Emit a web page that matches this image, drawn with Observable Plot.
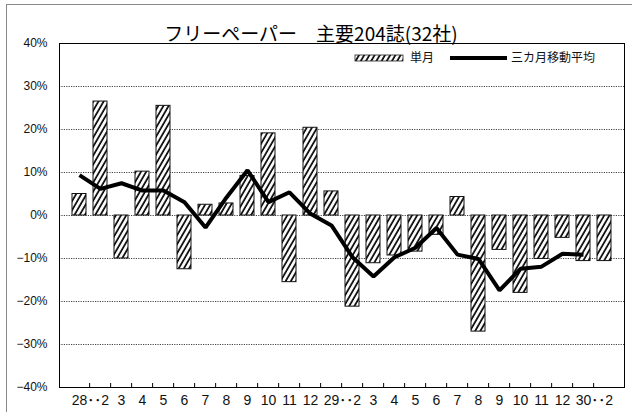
<!DOCTYPE html>
<html>
<head>
<meta charset="utf-8">
<script src="https://cdn.jsdelivr.net/npm/d3@7"></script>
<script src="https://cdn.jsdelivr.net/npm/@observablehq/plot@0.6"></script>
<style>
  body { margin: 0; background: #fff; }
  #wrap { position: relative; width: 632px; height: 412px; overflow: hidden; }
  #outer { position: absolute; left: 6px; top: 4px; width: 700px; height: 500px; border: 1px solid #888; box-sizing: border-box; }
  #chart { position: absolute; left: 0; top: 0; }
</style>
</head>
<body>
<div id="wrap"><div id="outer"></div><div id="chart"></div></div>
<script>
const title = "フリーペーパー　主要204誌(32社)";
const seriesNames = ["単月", "三カ月移動平均"];
const months = ["28.1","28.2","28.3","28.4","28.5","28.6","28.7","28.8","28.9","28.10","28.11","28.12",
                "29.1","29.2","29.3","29.4","29.5","29.6","29.7","29.8","29.9","29.10","29.11","29.12",
                "30.1","30.2"];
const tickLabels = ["28･･2","","3","4","5","6","7","8","9","10","11","12",
                    "29･･2","","3","4","5","6","7","8","9","10","11","12",
                    "30･･2",""];
const monthly = [5.0, 26.5, -10.0, 10.2, 25.5, -12.5, 2.5, 2.8, 9.2, 19.1, -15.5, 20.4,
                 5.6, -21.2, -11.1, -9.3, -8.4, -4.5, 4.3, -27.0, -8.0, -18.0, -10.1, -5.2, -10.6, -10.6];
const movingAvg = [9.4, 6.2, 7.5, 5.8, 5.8, 3.1, -2.8, 4.2, 10.5, 3.1, 5.4, 0.4,
                   -2.3, -9.7, -14.2, -9.7, -7.5, -2.9, -9.1, -10.1, -17.4, -12.4, -11.9, -8.9, -9.1, null];
const yTicks = [40, 30, 20, 10, 0, -10, -20, -30, -40];
const yTickLabels = ["40%","30%","20%","10%","0%","−10%","−20%","−30%","−40%"];
const gridTicks = [30, 20, 10, 0, -10, -20, -30];

const W = 632, H = 412, mL = 59, mR = 8, mT = 43, mB = 25;
const step = (W - mL - mR) / months.length;

const bars = months.map((m, i) => ({m, v: monthly[i]}));
const avg = months.map((m, i) => ({m, v: movingAvg[i]})).filter(d => d.v != null);
const labelOf = new Map(months.map((m, i) => [m, tickLabels[i]]));
const yearCats = months.filter(m => labelOf.get(m).includes("･"));
const plainCats = months.filter(m => { const t = labelOf.get(m); return t !== "" && !t.includes("･"); });
const yLabelOf = new Map(yTicks.map((t, i) => [t, yTickLabels[i]]));

const chart = Plot.plot({
  width: W, height: H,
  marginLeft: mL, marginRight: mR, marginTop: mT, marginBottom: mB,
  style: {fontFamily: "'Liberation Sans', Arial, 'Noto Sans CJK JP', sans-serif", background: "transparent", overflow: "visible"},
  x: {domain: months, paddingInner: 0.31, paddingOuter: 0.155, axis: null},
  y: {domain: [-40, 40], axis: null},
  marks: [
    Plot.gridY(gridTicks, {stroke: "#444", strokeOpacity: 1, strokeDasharray: "1.2,1.2", strokeWidth: 1}),
    Plot.barY(bars, {x: "m", y: "v", fill: "url(#hatch)", stroke: "#111", strokeWidth: 1}),
    Plot.line(avg, {x: "m", y: "v", stroke: "black", strokeWidth: 4, strokeLinejoin: "miter", strokeLinecap: "butt"}),
    Plot.frame({stroke: "black", strokeWidth: 1}),
    Plot.ruleX(months.slice(1), {x: d => d, y1: -40, y2: -40 + 80 * 4 / (H - mT - mB), dx: -step / 2, stroke: "black"}),
    Plot.axisY(yTicks, {label: null, tickSize: 0, tickPadding: 12, tickFormat: d => yLabelOf.get(d), fontSize: 12, fill: "#111"}),
    Plot.axisX(plainCats, {label: null, tickSize: 0, tickPadding: 8, tickFormat: d => labelOf.get(d), fontSize: 14, fill: "#111"}),
    Plot.axisX(yearCats, {label: null, tickSize: 0, tickPadding: 8, dx: step / 2, tickFormat: d => labelOf.get(d), fontSize: 14, fill: "#111"}),
    Plot.text([title], {frameAnchor: "top", dx: -31, dy: -3, lineAnchor: "bottom", fontSize: 19, fill: "black",
                        fontFamily: "'Noto Sans CJK JP', sans-serif"})
  ]
});

const svg = d3.select(chart);
const defs = svg.insert("defs", ":first-child");
const pat = defs.append("pattern").attr("id", "hatch").attr("patternUnits", "userSpaceOnUse")
  .attr("width", 4.5).attr("height", 10).attr("patternTransform", "rotate(30)");
pat.append("rect").attr("width", 4.5).attr("height", 10).attr("fill", "white");
pat.append("line").attr("x1", 1).attr("y1", 0).attr("x2", 1).attr("y2", 10).attr("stroke", "black").attr("stroke-width", 1.7);

// legend
const lg = svg.append("g").attr("font-family", "'Noto Sans CJK JP', sans-serif").attr("font-size", 12)
  .attr("fill", "#111").attr("text-anchor", "start");
lg.append("rect").attr("x", 355).attr("y", 55).attr("width", 48).attr("height", 6).attr("fill", "url(#hatch)").attr("stroke", "#222").attr("stroke-width", 0.8);
lg.append("text").attr("x", 410).attr("y", 58).attr("dy", "0.35em").text(seriesNames[0]);
lg.append("line").attr("x1", 450).attr("x2", 507).attr("y1", 58).attr("y2", 58).attr("stroke", "black").attr("stroke-width", 4);
lg.append("text").attr("x", 511).attr("y", 58).attr("dy", "0.35em").text(seriesNames[1]);

document.getElementById("chart").appendChild(chart);
</script>
</body>
</html>
